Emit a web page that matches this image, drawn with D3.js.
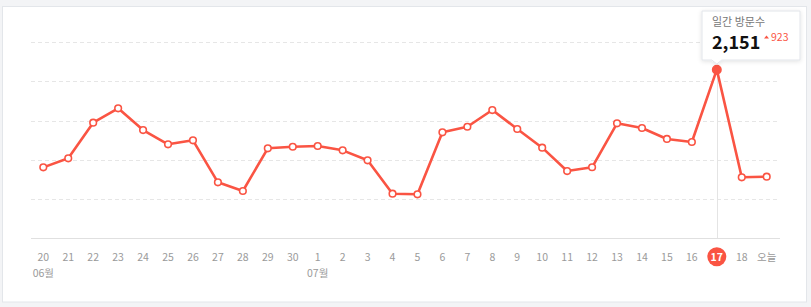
<!DOCTYPE html>
<html><head><meta charset="utf-8">
<script src="https://cdn.jsdelivr.net/npm/d3@7"></script>
<style>
html,body{margin:0;padding:0;background:#f3f4f6;}
svg{display:block;font-family:"Noto Sans CJK KR","Noto Sans",sans-serif;}
</style></head><body>
<svg id="c" width="811" height="307"></svg>
<script>
const days = ["20","21","22","23","24","25","26","27","28","29","30","1","2","3","4","5","6","7","8","9","10","11","12","13","14","15","16","17","18","오늘"];
const visits = [905,1020,1475,1658,1381,1199,1250,714,603,1148,1168,1177,1122,995,569,561,1352,1423,1636,1394,1156,858,906,1467,1407,1267,1228,2151,778,786];
const monthLabels = [{idx:0,text:"06월"},{idx:11,text:"07월"}];
const yTicks = [0,500,1000,1500,2000,2500];
const selectedIdx = 27;
const tooltipTitle = "일간 방문수";
const changeValue = 923;

const svg = d3.select("#c");
svg.append("rect").attr("x",2.5).attr("y",6.5).attr("width",804).attr("height",295.5)
  .attr("fill","#fff").attr("stroke","#e3e6ea");

const x = d3.scalePoint().domain(days.map((d,i)=>i)).range([43.3,766.7]);
const y = d3.scaleLinear().domain([0,2500]).range([238.3,42.3]);
const plotL = 31, plotR = 780;

// gridlines
svg.append("g").selectAll("line").data(yTicks.slice(1)).join("line")
  .attr("x1",plotL).attr("x2",plotR).attr("y1",d=>Math.round(y(d))+0.5).attr("y2",d=>Math.round(y(d))+0.5)
  .attr("stroke","#e6e6e6").attr("stroke-dasharray","4,3");
svg.append("line").attr("x1",plotL).attr("x2",plotR).attr("y1",238.5).attr("y2",238.5).attr("stroke","#e0e0e0");

// vertical line at selected
svg.append("line").attr("x1",Math.round(x(selectedIdx))+0.5).attr("x2",Math.round(x(selectedIdx))+0.5)
  .attr("y1",y(visits[selectedIdx])).attr("y2",238).attr("stroke","#e4e4e4");

// line
const col = "#fa5443";
svg.append("path").datum(visits)
  .attr("d", d3.line().x((d,i)=>x(i)).y(d=>y(d)))
  .attr("fill","none").attr("stroke",col).attr("stroke-width",2.6).attr("stroke-linejoin","round");
svg.append("g").selectAll("circle").data(visits).join("circle")
  .attr("cx",(d,i)=>x(i)).attr("cy",d=>y(d))
  .attr("r",(d,i)=>i===selectedIdx?4.2:3.3)
  .attr("fill",(d,i)=>i===selectedIdx?col:"#fff")
  .attr("stroke",col).attr("stroke-width",1.6);

// x ticks
const xg = svg.append("g");
xg.append("circle").attr("cx",x(selectedIdx)).attr("cy",256.7).attr("r",9.5).attr("fill",col);
xg.selectAll("text.t").data(days).join("text").attr("class","t")
  .attr("x",(d,i)=>x(i)).attr("y",260.5).attr("text-anchor","middle")
  .attr("font-size",10.5).attr("font-weight",(d,i)=>i===selectedIdx?"bold":"normal")
  .attr("fill",(d,i)=>i===selectedIdx?"#fff":"#9a9a9a").text(d=>d);
xg.selectAll("text.m").data(monthLabels).join("text").attr("class","m")
  .attr("x",d=>x(d.idx)).attr("y",277).attr("text-anchor","middle")
  .attr("font-size",10.5).attr("fill","#9a9a9a").text(d=>d.text);

// tooltip
const tx = x(selectedIdx);
const tt = svg.append("g");
const defs = svg.append("defs");
const f = defs.append("filter").attr("id","sh").attr("x","-20%").attr("y","-20%").attr("width","140%").attr("height","150%");
f.append("feDropShadow").attr("dx",0).attr("dy",1).attr("stdDeviation",2).attr("flood-color","#000").attr("flood-opacity",0.12);
tt.append("path").attr("d",`M702,11 H800 V60 H${tx+5} L${tx},64 L${tx-5},60 H702 Z`)
  .attr("fill","#fff").attr("stroke","#e2e5ea").attr("filter","url(#sh)");
tt.append("text").attr("x",712).attr("y",26).attr("font-size",11).attr("fill","#777").text(tooltipTitle);
tt.append("text").attr("x",712).attr("y",49).attr("font-size",18).attr("font-weight","bold").attr("fill","#111")
  .text(d3.format(",")(visits[selectedIdx]));
tt.append("path").attr("d","M764,38.5 l2.5,-3 l2.5,3 Z").attr("fill",col);
tt.append("text").attr("x",771).attr("y",41).attr("font-size",10.5).attr("fill",col).text(changeValue);
</script>
</body></html>
